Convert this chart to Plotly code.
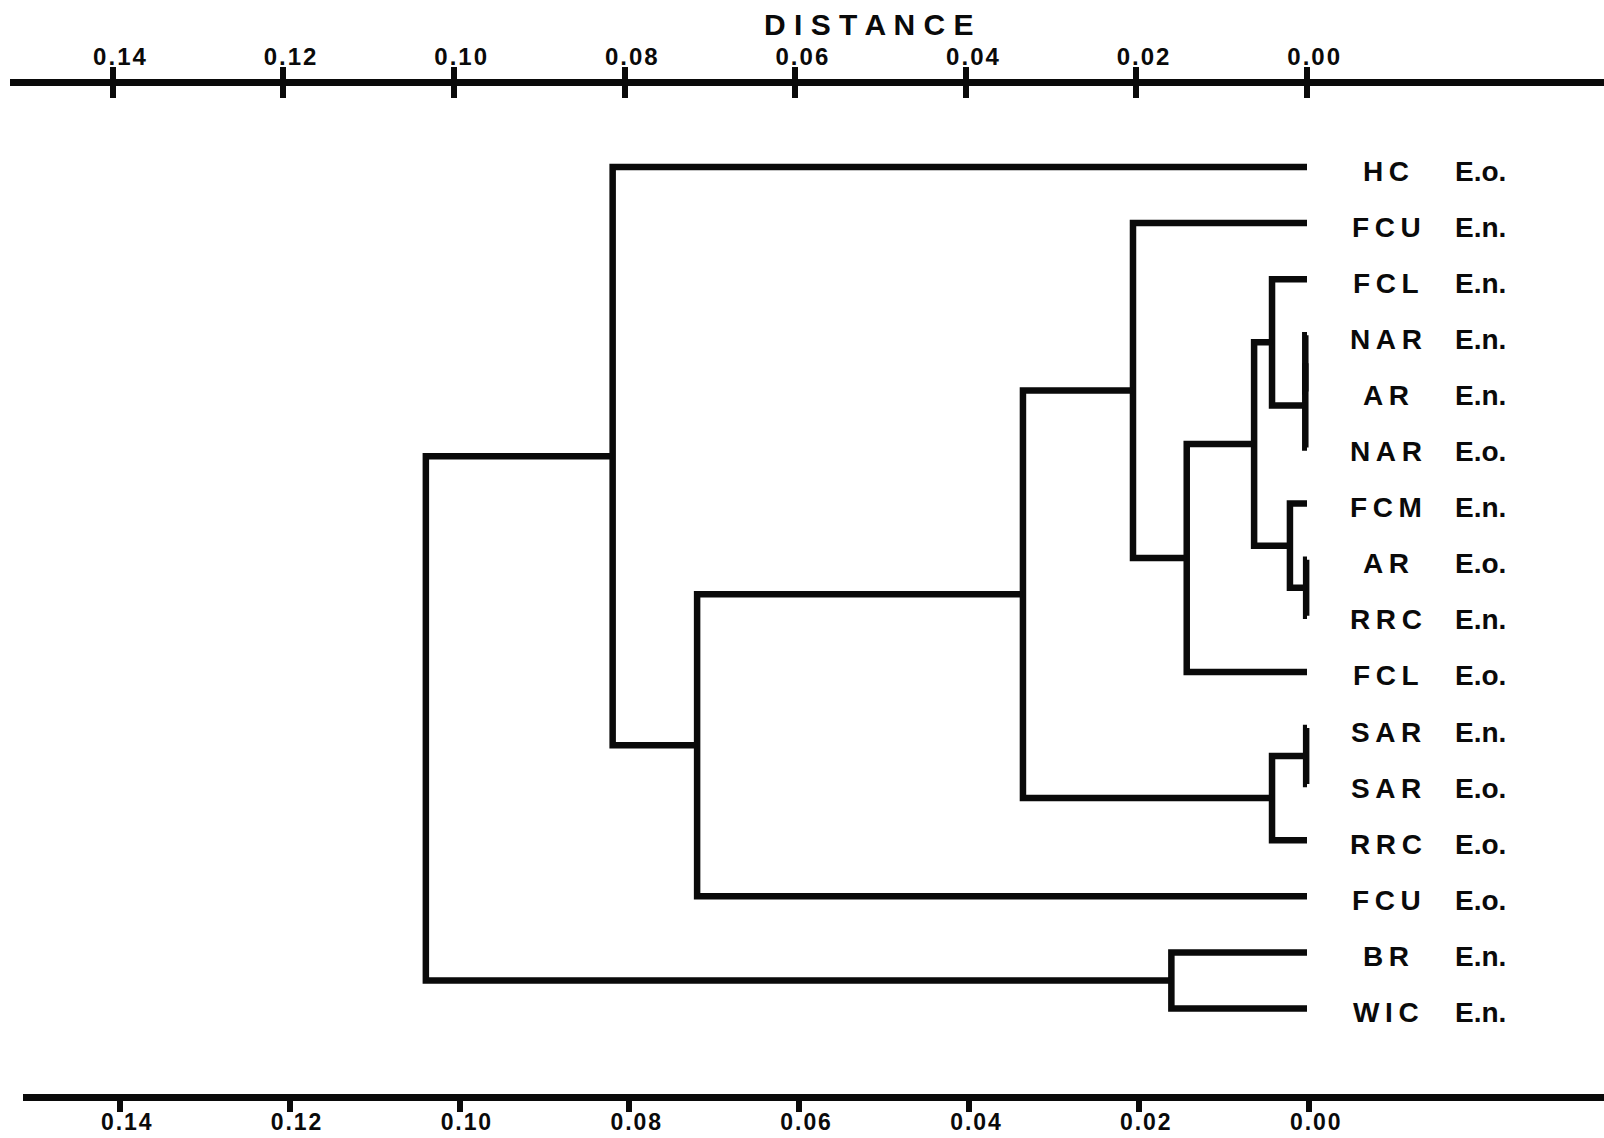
import plotly.graph_objects as go

# ---------------- data ----------------
leaf_codes = ["HC", "FCU", "FCL", "NAR", "AR", "NAR", "FCM", "AR",
              "RRC", "FCL", "SAR", "SAR", "RRC", "FCU", "BR", "WIC"]
leaf_species = ["E.o.", "E.n.", "E.n.", "E.n.", "E.n.", "E.o.", "E.n.", "E.o.",
                "E.n.", "E.o.", "E.n.", "E.o.", "E.o.", "E.o.", "E.n.", "E.n."]

# linkage: node ids 0..15 are leaves, merges create ids 16, 17, ...
merge_left = [3, 16, 7, 10, 2, 6, 19, 20, 23, 14, 1, 26, 27, 0, 29]
merge_right = [4, 5, 8, 11, 17, 18, 12, 21, 9, 15, 24, 22, 13, 28, 25]
merge_dist = [0.0002, 0.0002, 0.0001, 0.0001, 0.0041, 0.0020, 0.0041, 0.0062,
              0.0141, 0.0159, 0.0204, 0.0333, 0.0715, 0.0814, 0.1033]

tick_values = [0.14, 0.12, 0.10, 0.08, 0.06, 0.04, 0.02, 0.00]
tick_labels = ["0.14", "0.12", "0.10", "0.08", "0.06", "0.04", "0.02", "0.00"]
axis_title = "DISTANCE"

# ---------------- geometry / style ----------------
W, H = 1604, 1138
TOP_M, BOT_M = 86, 44
PLOT_TOP, PLOT_BOT = TOP_M, H - BOT_M
PLOT_H = PLOT_BOT - PLOT_TOP
LEAF0_PX, LEAF_STEP_PX = 167.0, 56.1
# pixel scale of the two (slightly different) printed axes
TOP_ZERO_PX, TOP_PX_PER_UNIT, TOP_START_PX = 1307.0, 8530.0, 10.0
BOT_ZERO_PX, BOT_PX_PER_UNIT, BOT_START_PX = 1308.8, 8493.0, 23.0
INK = "#0a0a0a"
FONT = "Liberation Sans, Arial, Helvetica, sans-serif"
LW = 6.5
THIN = "\u2009"
HAIR = "\u200a"
FIG_SP = "\u2007"   # nudges printed tick labels slightly right of their ticks


def tick_text(t):
    return FIG_SP + HAIR.join(t)


n = len(leaf_codes)
ypos = {i: float(i) for i in range(n)}
height = {i: 0.0 for i in range(n)}

xs, ys = [], []
for k, (a, b, d) in enumerate(zip(merge_left, merge_right, merge_dist)):
    node = n + k
    xs += [height[a], d, d, height[b], None]
    ys += [ypos[a], ypos[a], ypos[b], ypos[b], None]
    ypos[node] = (ypos[a] + ypos[b]) / 2.0
    height[node] = d

fig = go.Figure()
fig.add_trace(go.Scatter(x=xs, y=ys, mode="lines", xaxis="x2", yaxis="y",
                         line=dict(color=INK, width=LW, shape="linear"),
                         hoverinfo="skip", showlegend=False))

# y range so that leaf i sits at LEAF0_PX + i*LEAF_STEP_PX
y_bottom = (PLOT_BOT - LEAF0_PX) / LEAF_STEP_PX
y_top = (PLOT_TOP - LEAF0_PX) / LEAF_STEP_PX

bot_range = [(BOT_ZERO_PX - BOT_START_PX) / BOT_PX_PER_UNIT,
             (BOT_ZERO_PX - W) / BOT_PX_PER_UNIT]
top_range = [(TOP_ZERO_PX - TOP_START_PX) / TOP_PX_PER_UNIT,
             (TOP_ZERO_PX - W) / TOP_PX_PER_UNIT]

common = dict(showgrid=False, zeroline=False, showline=True, linewidth=7,
              linecolor=INK, tickcolor=INK, tickwidth=6, automargin=False,
              tickmode="array", tickvals=tick_values, fixedrange=True)

fig.update_layout(
    width=W, height=H,
    margin=dict(l=0, r=0, t=TOP_M, b=BOT_M, pad=0),
    paper_bgcolor="white", plot_bgcolor="white",
    showlegend=False,
    xaxis=dict(domain=[BOT_START_PX / W, 1], range=bot_range, anchor="y", side="bottom",
               ticks="outside", ticklen=11, ticklabelstandoff=-10,
               ticktext=[tick_text(t) for t in tick_labels],
               tickfont=dict(family=FONT, size=23, color=INK, weight="bold"), **common),
    xaxis3=dict(overlaying="x", range=bot_range, anchor="y", side="bottom",
                ticks="inside", ticklen=11, showticklabels=False, **common),
    xaxis2=dict(domain=[TOP_START_PX / W, 1], range=top_range, anchor="y", side="top",
                ticks="outside", ticklen=12, ticklabelstandoff=-8,
                ticktext=[tick_text(t) for t in tick_labels],
                tickfont=dict(family=FONT, size=24, color=INK, weight="bold"), **common),
    xaxis4=dict(overlaying="x2", range=top_range, anchor="y", side="top",
                ticks="inside", ticklen=12, showticklabels=False, **common),
    yaxis=dict(range=[y_bottom, y_top], visible=False, showgrid=False,
               zeroline=False, fixedrange=True),
)

# invisible traces to activate the overlay axes
fig.add_trace(go.Scatter(x=[None], y=[None], xaxis="x", yaxis="y", showlegend=False))
fig.add_trace(go.Scatter(x=[None], y=[None], xaxis="x3", yaxis="y", showlegend=False))
fig.add_trace(go.Scatter(x=[None], y=[None], xaxis="x4", yaxis="y", showlegend=False))

for i, (code, sp) in enumerate(zip(leaf_codes, leaf_species)):
    fig.add_annotation(x=1386 / W, xref="paper", y=ypos[i], yref="y",
                       text=THIN.join(code), showarrow=False, xanchor="center",
                       yanchor="middle", yshift=-4,
                       font=dict(family=FONT, size=28, color=INK, weight="bold"))
    fig.add_annotation(x=1453 / W, xref="paper", y=ypos[i], yref="y",
                       text=sp, showarrow=False, xanchor="left",
                       yanchor="middle", yshift=-4,
                       font=dict(family=FONT, size=28, color=INK, weight="bold"))

# title centred 24 px below the top of the figure (paper y is relative to plot area)
fig.add_annotation(x=868 / W, xref="paper", y=1 + (PLOT_TOP - 24) / PLOT_H, yref="paper",
                   text=" ".join(axis_title), showarrow=False, xanchor="center",
                   yanchor="middle",
                   font=dict(family=FONT, size=30, color=INK, weight="bold"))

fig.write_html("out.html", config={"displayModeBar": False},
               post_script="document.body.style.margin='0';document.body.style.padding='0';")
